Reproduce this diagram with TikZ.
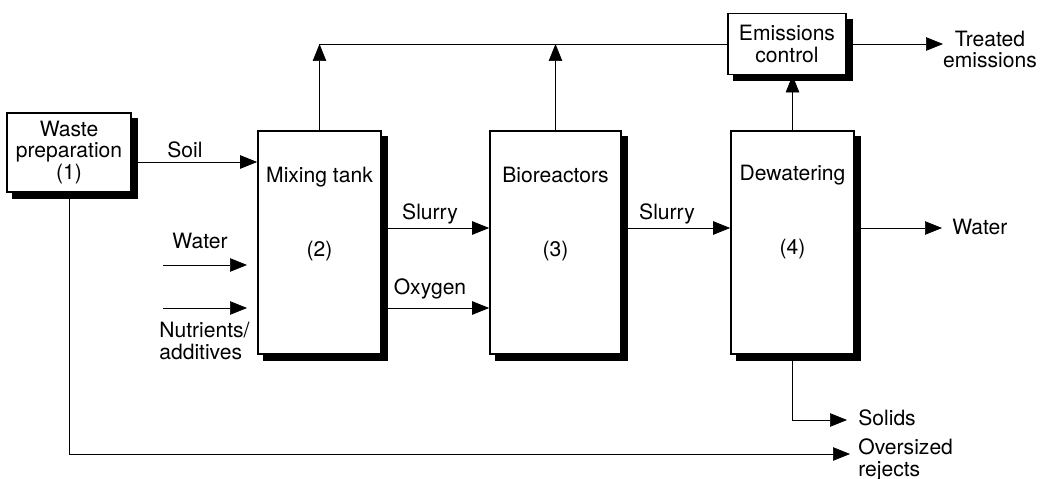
\documentclass[tikz,border=0pt]{standalone}
\usepackage{fontspec}
\setmainfont{TeX Gyre Heros}
\usetikzlibrary{arrows.meta}
\pgfdeclarelayer{background}
\pgfsetlayers{background,main}
\newcommand{\shadowbehind}[1]{%
  \begin{pgfonlayer}{background}
    \fill ([shift={(0.12cm,-0.12cm)}]#1.south west) rectangle ([shift={(0.12cm,-0.12cm)}]#1.north east);
  \end{pgfonlayer}}

\begin{document}
\begin{tikzpicture}[x=0.02cm, y=-0.02cm, line width=1pt,
    every node/.style={font=\fontsize{12}{12.4}\selectfont, inner sep=0pt},
    unit/.style={draw, fill=white, align=center},
    tank/.style={unit, minimum width=2.46cm, minimum height=4.46cm},
    flow/.style={-{Triangle[length=0.34cm,width=0.27cm]}},
    txt/.style={anchor=base, align=center},
    side/.style={anchor=base west, align=left}]
  \useasboundingbox (0,0) rectangle (1054,479);

  \node[unit, minimum width=2.48cm, minimum height=1.58cm] (prep) at (69,152.5) {Waste\\preparation\\(1)};
  \node[tank] (mix) at (319.5,242.5) {};
  \node[tank, minimum width=2.62cm] (bio) at (555.5,242.5) {};
  \node[tank] (dew) at (792.5,242.5) {};
  \node[unit, minimum width=2.36cm, minimum height=1.22cm] (emis) at (787,44) {Emissions\\control};
  \shadowbehind{prep}
  \shadowbehind{mix}
  \shadowbehind{bio}
  \shadowbehind{dew}
  \shadowbehind{emis}

  \node[txt] (mixt) at (319.5,183) {Mixing tank};
  \node[txt] (mixn) at (319.5,257) {(2)};
  \node[txt] (biot) at (555.5,183) {Bioreactors};
  \node[txt] (bion) at (555.5,257) {(3)};
  \node[txt] (dewt) at (792.5,181) {Dewatering};
  \node[txt] (dewn) at (792.5,255) {(4)};

  \coordinate (top)    at (319,44);
  \coordinate (tout)   at (943,44);
  \coordinate (soil)   at (131,162);
  \coordinate (slurry) at (0,228);
  \coordinate (oxy)    at (0,308);
  \coordinate (win)    at (163,265);
  \coordinate (wend)   at (247,265);
  \coordinate (nin)    at (163,308);
  \coordinate (nend)   at (247,308);
  \coordinate (wout)   at (942,228);
  \coordinate (sol)    at (847,420);
  \coordinate (rej)    at (850,454);

  \draw (top) -- (top -| emis.west);
  \draw[flow] (mix.north) -- (mix.north |- top);
  \draw[flow] (bio.north) -- (bio.north |- top);
  \draw[flow] (dew.north) -- (dew.north |- emis.south);
  \draw[flow] (emis.east |- top) -- (tout);
  \draw[flow] (soil) -- (soil -| mix.west);
  \draw[flow] (win) -- (wend);
  \draw[flow] (nin) -- (nend);
  \draw[flow] (slurry -| mix.east) -- (slurry -| bio.west);
  \draw[flow] (oxy -| mix.east) -- (oxy -| bio.west);
  \draw[flow] (slurry -| bio.east) -- (slurry -| dew.west);
  \draw[flow] (slurry -| dew.east) -- (wout);
  \draw[flow] (dew.south) |- (sol);
  \draw[flow] (prep.south) |- (rej);

  % multi-line labels sit on the baseline of their last line
  \node[txt] (soillbl) at (185,158) {Soil};
  \node[txt] (winlbl) at (200,249) {Water};
  \node[side] (ninlbl) at (159,359) {Nutrients/\\additives};
  \node[txt] (s1lbl) at (430,220) {Slurry};
  \node[txt] (oxylbl) at (430,295) {Oxygen};
  \node[txt] (s2lbl) at (667,220) {Slurry};
  \node[side] (woutlbl) at (952,235) {Water};
  \node[txt] (toutlbl) at (990,68) {Treated\\emissions};
  \node[side] (sollbl) at (858,425) {Solids};
  \node[side] (rejlbl) at (858,476) {Oversized\\rejects};
\end{tikzpicture}
\end{document}
